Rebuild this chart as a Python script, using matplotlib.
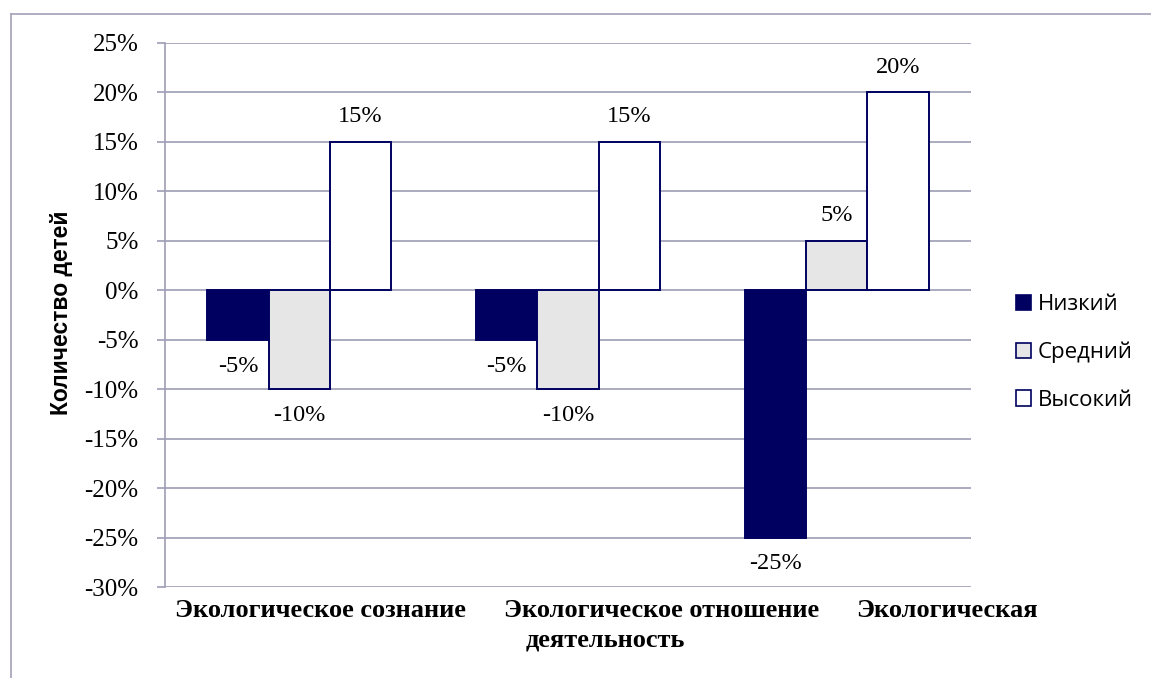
import numpy as np
from matplotlib import pyplot as plt
from matplotlib.lines import Line2D
from matplotlib.ticker import FuncFormatter

categories = ['Экологическое сознание', 'Экологическое отношение', 'Экологическая деятельность']
levels = ['Низкий', 'Средний', 'Высокий']
low = [-5, -5, -25]
mid = [-10, -10, 5]
high = [15, 15, 20]
y_ticks = list(range(-30, 30, 5))

navy = '#000060'
fills = [navy, '#e6e6e6', 'white']
grid_color = '#9d9db5'

fig = plt.figure(figsize=(11.51, 6.78), dpi=100)
ax = fig.add_axes([0.1434, 0.1342, 0.7002, 0.8024])

x = np.arange(len(categories))
width = 0.228
for i, (values, level) in enumerate(zip([low, mid, high], levels)):
    bars = ax.bar(x + (i - 1) * width, values, width, color=fills[i],
                  edgecolor=navy, linewidth=1.4, label=level, zorder=3)
    for bar, v in zip(bars, values):
        ax.annotate(f'{v}%', (bar.get_x() + bar.get_width() / 2, v),
                    xytext=(0, 18 if v > 0 else -19), textcoords='offset points',
                    ha='center', va='center', family='Liberation Serif', fontsize=17.5)

ax.set_xlim(-0.5, 2.5)
ax.set_ylim(-30, 25)
ax.set_yticks(y_ticks)
ax.yaxis.set_major_formatter(FuncFormatter(lambda v, _: f'{v:.0f}%'))
ax.grid(axis='y', color=grid_color, linewidth=1.2, zorder=0)
ax.set_xticks([])
for side in ['top', 'right', 'bottom']:
    ax.spines[side].set_visible(False)
ax.spines['left'].set_color(grid_color)
ax.spines['left'].set_linewidth(1.2)
ax.tick_params(axis='y', length=6, width=1.2, color=grid_color, pad=13)
for t in ax.get_yticklabels():
    t.set_family('Liberation Serif')
    t.set_fontsize(18)

ax.set_ylabel('Количество детей', family='Liberation Sans', fontweight='bold',
              fontsize=16.5)
ax.yaxis.set_label_coords(-0.114, 0.505)

# category labels wrapped the way the original flows them
first, second = categories[2].split()
label_pos = [(0.08, -0.043, categories[0]), (1.35, -0.043, categories[1]),
             (2.41, -0.043, first), (1.14, -0.098, second)]
for xp, yp, txt in label_pos:
    ax.text(xp, yp, txt, transform=ax.get_xaxis_transform(), ha='center', va='center',
            family='Liberation Serif', fontweight='bold', fontsize=19, clip_on=False)

handles = [plt.Rectangle((0, 0), 1, 1, facecolor=fills[i], edgecolor=navy, linewidth=1.2)
           for i in range(3)]
fig.legend(handles, levels, loc='center left', bbox_to_anchor=(0.865, 0.48),
           frameon=False, handlelength=0.7, handleheight=0.7, handletextpad=0.3,
           labelspacing=1.2, prop={'family': 'Open Sans', 'size': 16})

# outer chart border (left and top only)
fig.add_artist(Line2D([0.0095, 0.0095], [0, 0.979], color='#a8a8bc', linewidth=1.3))
fig.add_artist(Line2D([0.0095, 1], [0.979, 0.979], color='#a8a8bc', linewidth=1.3))

fig.savefig('out.png', dpi=100)
